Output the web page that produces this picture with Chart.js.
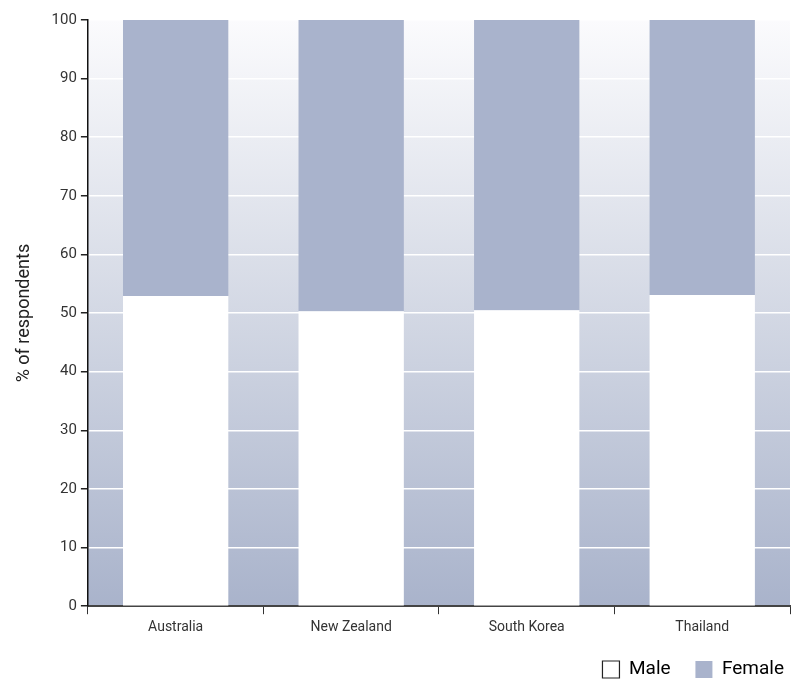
<!DOCTYPE html>
<html>
<head>
<meta charset="utf-8">
<script src="https://cdn.jsdelivr.net/npm/chart.js@4"></script>
<style>
  html, body { margin: 0; padding: 0; background: #fff; }
  #wrap { width: 792px; height: 680px; }
</style>
</head>
<body>
<div id="wrap"><canvas id="genderChart"></canvas></div>
<script>
const countries = ["Australia", "New Zealand", "South Korea", "Thailand"];
const maleShare = [52.9, 50.3, 50.5, 53.1];
const femaleShare = [47.1, 49.7, 49.5, 46.9];
const yTicks = [0, 10, 20, 30, 40, 50, 60, 70, 80, 90, 100];

const FONT = "'Liberation Sans Narrow', 'Roboto', sans-serif";

// plot area gradient, white at top fading to blue-grey at the bottom
const plotBackground = {
  id: "plotBackground",
  beforeDraw(chart) {
    const { ctx, chartArea: a } = chart;
    const g = ctx.createLinearGradient(0, a.top, 0, a.bottom);
    g.addColorStop(0, "#fbfbfd");
    g.addColorStop(0.5, "#d3d8e4");
    g.addColorStop(1, "#a9b3cb");
    ctx.save();
    ctx.fillStyle = g;
    ctx.fillRect(a.left, a.top, a.right - a.left, a.bottom - a.top);
    ctx.restore();
  },
};

const ctx = document.getElementById("genderChart").getContext("2d");

new Chart(ctx, {
  type: "bar",
  data: {
    labels: countries,
    datasets: [
      {
        label: "Male",
        data: maleShare,
        backgroundColor: "#ffffff",
        borderWidth: 0,
      },
      {
        label: "Female",
        data: femaleShare,
        backgroundColor: "#a9b3cc",
        borderWidth: 0,
      },
    ],
  },
  options: {
    responsive: true,
    maintainAspectRatio: false,
    animation: false,
    layout: { padding: { top: 20, right: 2, left: 10, bottom: -9 } },
    datasets: { bar: { categoryPercentage: 1, barPercentage: 0.6 } },
    plugins: {
      tooltip: { enabled: false },
      legend: {
        position: "bottom",
        align: "end",
        labels: {
          color: "#222",
          font: { family: FONT, size: 19 },
          boxWidth: 17,
          boxHeight: 17,
          padding: 6,
          generateLabels(chart) {
            const n = chart.data.datasets.length;
            return chart.data.datasets.map((ds, i) => ({
              // trailing spaces open the gap between legend entries
              text: i < n - 1 ? ds.label + "    " : ds.label,
              fillStyle: ds.backgroundColor,
              strokeStyle: i === 0 ? "#222" : ds.backgroundColor,
              lineWidth: i === 0 ? 1.2 : 0,
              datasetIndex: i,
            }));
          },
        },
      },
    },
    scales: {
      x: {
        stacked: true,
        offset: true,
        afterFit(scale) {
          scale.height += 13;
        },
        ticks: { color: "#333", font: { family: FONT, size: 14 }, padding: 5 },
        grid: {
          offset: true,
          drawOnChartArea: false,
          tickColor: "#333",
          tickLength: 8,
        },
        border: { color: "#444", width: 2 },
      },
      y: {
        stacked: true,
        min: 0,
        max: 100,
        afterBuildTicks(axis) {
          axis.ticks = yTicks.map((v) => ({ value: v }));
        },
        ticks: { color: "#333", font: { family: FONT, size: 15 }, padding: 4 },
        grid: { color: "#ffffff", lineWidth: 1.5, tickColor: "#222", tickLength: 7 },
        border: { color: "#111", width: 1.5 },
        title: {
          display: true,
          text: "% of respondents",
          color: "#222",
          font: { family: FONT, size: 18 },
          padding: { bottom: 12 },
        },
      },
    },
  },
  plugins: [plotBackground],
});
</script>
</body>
</html>
